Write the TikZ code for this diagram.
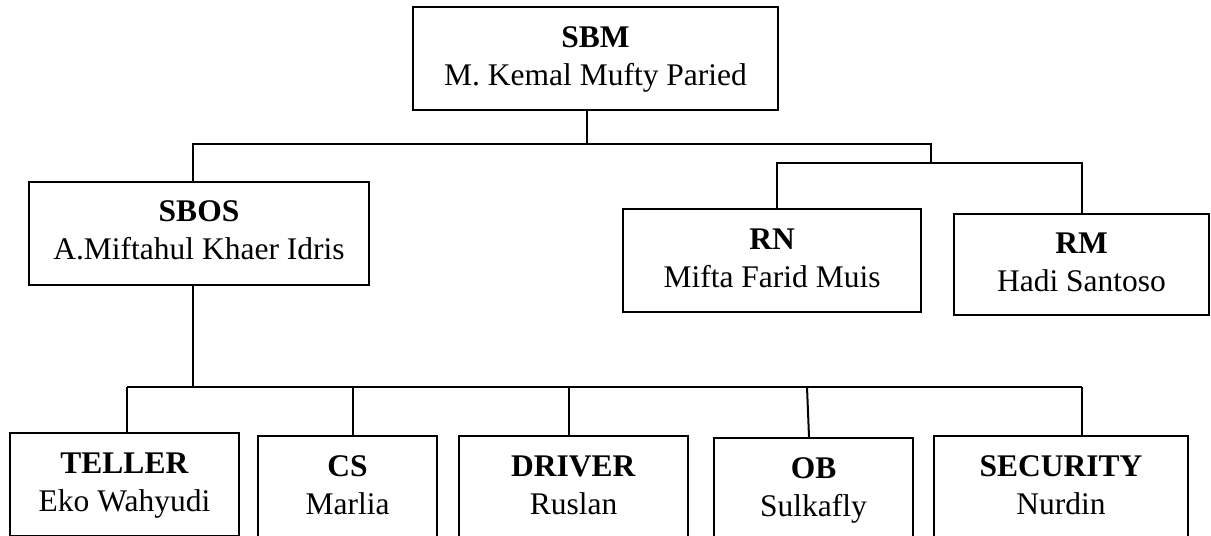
\documentclass[tikz,border=0pt]{standalone}
\usepackage{fontspec}
\setmainfont{Liberation Serif}
\usepackage{tikz}
\usetikzlibrary{calc}
\usetikzlibrary{positioning}

\newcommand{\jabatan}[2]{\textbf{#1}\strut\\#2\strut}

\begin{document}
\begin{tikzpicture}[x=0.4pt, y=-0.4pt,
  orgbox/.style={draw, line width=0.8pt, inner sep=0pt, align=center,
    minimum height=41.2pt, font=\fontsize{12.6}{15.2}\selectfont},
  link/.style={line width=0.8pt}]
\useasboundingbox (0,0) rectangle (1211,535);
\clip (0,0) rectangle (1211,535);

\node[orgbox, minimum width=146pt] (sbm) at (595.5,58.5) {\jabatan{SBM}{M. Kemal Mufty Paried}};
\node[orgbox, minimum width=136pt] (sbos) at (199,233) {\jabatan{SBOS}{A.Miftahul Khaer Idris}};
\node[orgbox, minimum width=119.2pt] (rn) at (772,260.5) {\jabatan{RN}{Mifta Farid Muis}};
\node[orgbox, minimum width=102pt, minimum height=40.4pt] (rm) at (1081.5,264.5) {\jabatan{RM}{Hadi Santoso}};

\node[orgbox, minimum width=91.6pt] (teller) at (124.5,484.5) {\jabatan{TELLER}{Eko Wahyudi}};
\node[orgbox, minimum width=71.6pt] (cs) at (347.5,487.5) {\jabatan{CS}{Marlia}};
\node[orgbox, minimum width=91.6pt] (driver) at (573.5,487.5) {\jabatan{DRIVER}{Ruslan}};
\node[orgbox, minimum width=79.6pt] (ob) at (813.5,489.5) {\jabatan{OB}{Sulkafly}};
\node[orgbox, minimum width=101.6pt] (security) at (1061,487.5) {\jabatan{SECURITY}{Nurdin}};

% garis atas
\coordinate (top) at (587,144);
\coordinate (topL) at (193,144);
\coordinate (topR) at (931,144);
\coordinate (rbus) at (931,163);
\coordinate (rbusL) at (777,163);
\coordinate (rbusR) at (1082,163);
\draw[link] (sbm.south -| top) -- (top);
\draw[link] (sbos.north -| topL) -- (topL) -- (topR) -- (rbus);
\draw[link] (rn.north -| rbusL) -- (rbusL) -- (rbusR) -- (rm.north -| rbusR);

% garis bawah
\coordinate (bus) at (193,387);
\coordinate (busL) at (127,387);
\coordinate (busR) at (1082,387);
\draw[link] (sbos.south -| bus) -- (bus);
\draw[link] (busL) -- (busR);
\foreach \n/\x in {teller/127, cs/353, driver/569, security/1082}
  \draw[link] (\n.north -| \x,0) -- (\x,387);
\draw[link] (ob.north -| 809,0) -- (807,387);
\end{tikzpicture}
\end{document}
